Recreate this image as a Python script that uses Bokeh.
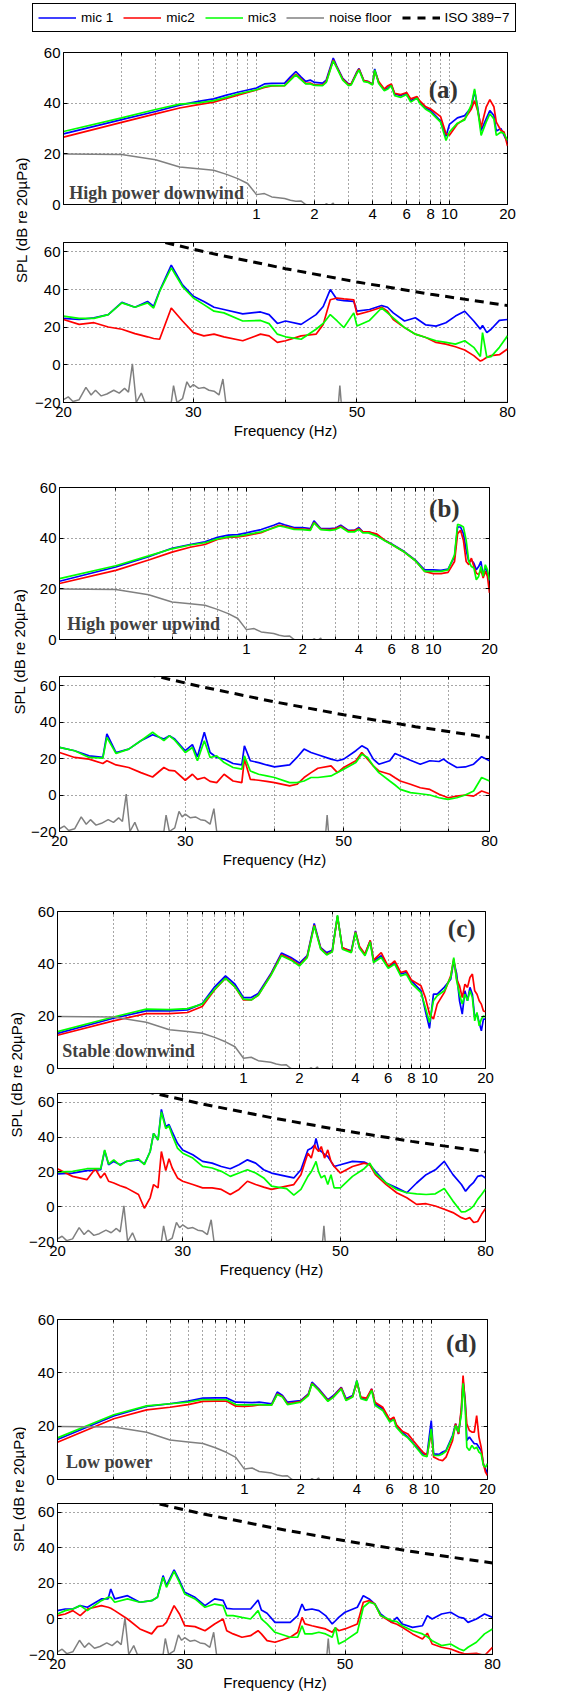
import math
from bokeh.plotting import figure
from bokeh.models import (Range1d, FixedTicker, LogAxis, LinearAxis, Label,
                          Legend, LegendItem, NumeralTickFormatter)
from bokeh.layouts import column, row
from bokeh.embed import file_html
from bokeh.resources import INLINE

FONT = "Liberation Sans"
SERIF = "Liberation Serif"
C_M1, C_M2, C_M3, C_NF = "#0000ff", "#ff0000", "#00ff00", "#808080"
LW = 1.7

# ---------------------------------------------------------------- data
series_names = ["mic 1", "mic2", "mic3", "noise floor", "ISO 389\u22127"]
panel_tags = ["(a)", "(b)", "(c)", "(d)"]
conditions = ["High power downwind", "High power upwind", "Stable downwind", "Low power"]

up_ticks = [1, 2, 4, 6, 8, 10, 20]
up_minor = [0.2, 0.3, 0.4, 0.5, 0.6, 0.7, 0.8, 0.9, 3, 5, 7, 9]
lo_ticks = [20, 30, 50, 80]
lo_minor = [40, 60, 70]
up_yticks = [0, 20, 40, 60]
lo_yticks = [-20, 0, 20, 40, 60]

iso_f = [20, 25, 31.5, 40, 50, 63, 80]
iso_db = [78.5, 68.7, 59.5, 51.1, 44.0, 37.5, 31.5]

noise_up_f = [0.1, 0.2, 0.3, 0.4, 0.5, 0.6, 0.7, 0.8, 0.9, 1.0, 1.1, 1.2, 1.4, 1.5, 1.6, 1.7, 1.8, 1.9, 2.0, 2.2,
              2.3, 2.4, 2.5, 2.6, 3.0, 20]
noise_up_db = [19.9, 19.7, 17.7, 14.8, 14.1, 13.5, 11.9, 10.2, 8.3, 3.9, 4.3, 3.0, 2.4, 1.7, 1.3, 1.4, 0.0, -0.8, -0.3, -0.8,
               0.3, -0.5, 0.6, -3.0, -8.0, -10.0]
noise_lo_f = [20.0, 20.3, 20.6, 21.0, 21.45, 21.8, 22.1, 22.5, 22.9, 23.4, 23.8, 24.2, 24.5, 24.8, 25.1, 25.5, 25.8,
              28.0, 28.2, 28.5, 29.0, 29.4, 29.7, 30.0, 30.5, 31.0, 31.5, 32.0, 32.5, 32.9, 33.2, 47.2, 47.4, 47.6, 80.0]
noise_lo_db = [-18.5, -17.0, -19.5, -18.5, -12.0, -16.0, -13.5, -16.5, -15.5, -13.5, -15.0, -12.5, -14.5, 0.5, -20.0,
               -15.0, -20.0, -20.0, -11.0, -20.0, -18.0, -9.0, -12.0, -10.5, -12.5, -12.0, -13.5, -14.0, -16.0, -7.5,
               -20.0, -20.0, -11.0, -20.0, -20.0]

# ---- (a) high power downwind
a_up_f = [0.1, 0.2, 0.3, 0.4, 0.5, 0.6, 0.7, 0.8, 0.9, 1.0, 1.1, 1.2, 1.4, 1.5, 1.6, 1.7, 1.8, 1.9, 2.0, 2.2,
          2.3, 2.5, 2.6, 2.8, 3.0, 3.1, 3.3, 3.4, 3.6, 3.8, 4.0, 4.1, 4.3, 4.6, 4.8, 5.0, 5.2, 5.6, 6.0, 6.3,
          6.8, 7.0, 7.5, 8.0, 9.0, 9.6, 10, 11, 12, 13, 13.5, 14, 14.6, 15.5, 16.2, 17, 17.5, 18.5, 19.2, 20]
a_up_mic1 = [27.9, 33.5, 36.7, 39.2, 40.7, 41.7, 43.2, 44.3, 45.2, 46.0, 47.6, 47.8, 47.9, 50.4, 52.5, 50.4, 48.6, 49.1, 48.2, 47.9,
             49.1, 57.8, 54.8, 49.8, 47.6, 47.6, 52.1, 53.7, 48.9, 48.5, 47.6, 53.5, 48.2, 45.2, 46.0, 47.3, 43.6, 43.0, 43.9, 41.0,
             42.3, 40.4, 38.1, 37.1, 32.9, 26.9, 31.6, 34.2, 35.1, 38.4, 44.9, 38.4, 29.2, 33.8, 37.1, 35.1, 29.0, 30.0, 27.3, 24.6]
a_up_mic2 = [26.6, 32.4, 35.8, 38.1, 39.4, 40.4, 41.9, 43.2, 44.2, 45.2, 46.2, 46.8, 46.9, 49.4, 51.5, 49.6, 47.8, 47.9, 47.2, 47.1,
             48.5, 57.0, 54.4, 49.5, 47.3, 47.6, 51.8, 53.5, 48.9, 48.5, 47.4, 52.8, 48.5, 45.6, 46.9, 47.6, 43.9, 43.4, 44.2, 41.7,
             42.6, 41.0, 38.7, 37.7, 34.7, 27.9, 27.3, 31.8, 33.8, 37.7, 41.0, 37.1, 30.5, 38.4, 41.4, 38.6, 32.5, 29.2, 28.6, 23.1]
a_up_mic3 = [28.8, 34.2, 37.5, 39.6, 40.1, 41.0, 42.3, 43.6, 44.5, 45.3, 46.5, 46.9, 46.9, 49.1, 51.2, 49.3, 47.6, 47.6, 47.0, 46.9,
             48.2, 56.7, 54.1, 49.1, 46.9, 47.2, 51.5, 53.1, 48.5, 48.2, 47.2, 53.1, 47.8, 44.9, 45.6, 46.9, 43.0, 42.3, 43.4, 40.4,
             42.0, 40.0, 37.7, 36.4, 32.5, 25.3, 28.6, 32.1, 33.4, 39.4, 45.6, 37.7, 27.3, 32.5, 35.8, 33.8, 27.3, 28.6, 27.9, 25.3]
a_lo_f = [20, 21, 22, 23, 24, 25, 26, 26.5, 27, 28, 29, 30, 31, 32, 33, 35, 37, 38, 39, 40, 42, 44, 45,
          46, 47, 48, 49.5, 50, 52, 54, 55, 56, 58, 60, 62, 64, 66, 68, 70, 72, 73.5, 74, 75, 76, 78, 80]
a_lo_mic1 = [24.7, 24.1, 25.0, 26.7, 33.2, 30.6, 33.7, 31.1, 39.3, 53.0, 42.5, 36.4, 33.7, 30.6, 29.4, 27.1, 28.1, 26.7, 22.0, 23.3, 21.5, 26.7, 31.0,
             40.0, 34.6, 34.1, 33.7, 28.5, 29.4, 31.5, 30.6, 27.6, 23.3, 25.0, 21.2, 20.6, 22.4, 25.9, 28.5, 23.3, 19.0, 21.0, 17.1, 18.9, 23.6, 24.1]
a_lo_mic2 = [24.1, 21.5, 22.4, 20.1, 18.9, 16.6, 14.9, 14.0, 13.6, 30.2, 23.3, 17.1, 15.4, 16.3, 14.9, 12.8, 16.3, 15.4, 11.9, 12.8, 15.4, 16.3, 21.5,
             34.6, 35.5, 35.1, 34.6, 26.7, 28.5, 30.6, 28.5, 24.1, 19.8, 16.3, 14.5, 11.9, 11.0, 9.6, 7.9, 4.9, 2.0, 2.5, 4.0, 4.9, 5.4, 8.4]
a_lo_mic3 = [25.9, 24.7, 24.7, 26.7, 32.9, 30.6, 32.9, 30.2, 39.0, 51.5, 41.6, 35.5, 32.0, 28.5, 27.6, 23.3, 23.6, 21.9, 16.3, 14.9, 13.6, 18.9, 22.0,
             26.7, 23.3, 19.8, 27.6, 20.6, 23.6, 30.2, 27.6, 25.0, 19.8, 16.3, 14.5, 12.8, 11.9, 11.0, 12.8, 9.3, 4.5, 17.1, 4.0, 4.4, 9.3, 15.4]

# ---- (b) high power upwind
b_up_f = [0.1, 0.2, 0.3, 0.4, 0.5, 0.6, 0.7, 0.8, 0.9, 1.0, 1.2, 1.4, 1.5, 1.6, 1.8, 2.0, 2.2, 2.3, 2.5, 2.8,
          3.0, 3.2, 3.5, 3.8, 4.0, 4.2, 4.5, 5.0, 5.5, 6.0, 7.0, 8.0, 9.0, 10, 11, 12, 13, 13.5, 14, 14.5,
          15, 15.5, 16, 16.5, 17, 17.5, 18, 18.5, 19, 19.5, 20]
b_up_mic1 = [23.0, 28.6, 32.7, 36.0, 37.5, 38.6, 40.3, 41.2, 41.4, 42.1, 43.4, 45.1, 46.0, 45.3, 44.2, 44.2, 43.8, 46.8, 43.8, 43.8,
             44.0, 45.1, 43.1, 43.1, 44.2, 42.5, 42.5, 41.2, 39.2, 37.7, 34.7, 31.4, 27.5, 27.5, 27.3, 27.8, 32.7, 44.4, 44.4, 41.8,
             35.3, 30.8, 31.4, 30.1, 27.5, 28.8, 30.8, 24.9, 28.8, 26.2, 23.0]
b_up_mic2 = [22.1, 27.3, 31.4, 34.5, 36.4, 37.5, 39.5, 40.3, 40.5, 41.0, 42.2, 44.2, 45.1, 44.7, 43.8, 43.6, 43.4, 46.2, 43.6, 43.4,
             43.8, 44.7, 42.8, 43.1, 43.8, 42.5, 42.5, 41.6, 39.2, 37.5, 34.5, 31.2, 26.9, 26.0, 26.0, 26.5, 30.8, 41.8, 43.1, 39.2,
             30.8, 29.5, 32.1, 28.8, 26.2, 25.6, 27.5, 24.3, 26.9, 24.9, 18.4]
b_up_mic3 = [24.0, 29.1, 33.0, 35.8, 37.3, 38.2, 39.7, 40.5, 40.8, 41.4, 42.5, 44.0, 44.8, 44.4, 43.5, 43.4, 43.1, 46.0, 43.4, 43.1,
             43.4, 44.4, 42.5, 42.5, 43.5, 42.1, 42.1, 40.8, 39.0, 37.5, 34.5, 31.2, 26.9, 26.9, 26.9, 27.5, 33.4, 45.5, 45.1, 44.4,
             39.2, 30.8, 28.8, 28.2, 23.6, 24.9, 28.8, 24.9, 29.5, 27.5, 23.4]
b_lo_f = [20, 21, 22, 23, 23.3, 24, 25, 26, 27, 28, 28.5, 29, 30, 30.7, 31.2, 31.9, 32.5, 33.2, 34, 35,
          36, 36.3, 37, 38, 39, 40, 42, 43, 44, 45, 46, 48, 49, 50, 52, 53, 54, 55, 56, 58,
          59, 60, 62, 64, 66, 68, 69, 70, 72, 74, 76, 78, 80]
b_lo_mic1 = [26.1, 24.3, 21.5, 20.6, 33.5, 23.3, 25.2, 29.8, 33.1, 30.7, 32.5, 30.7, 24.3, 27.6, 21.0, 34.4, 23.3, 20.6, 19.7, 17.3,
             16.5, 27.0, 18.8, 17.8, 16.5, 15.4, 16.5, 20.6, 25.2, 23.3, 22.1, 19.7, 18.8, 19.7, 24.3, 27.0, 25.2, 19.7, 16.9, 18.8,
             22.8, 21.5, 19.1, 16.9, 18.8, 18.4, 19.7, 17.8, 15.1, 15.4, 16.9, 21.0, 18.8]
b_lo_mic2 = [23.3, 20.6, 19.7, 17.3, 18.8, 16.5, 15.1, 12.3, 9.9, 15.1, 13.5, 13.2, 8.1, 11.4, 8.6, 9.6, 7.5, 6.8, 11.4, 7.7,
             6.8, 19.7, 8.6, 8.1, 7.5, 6.8, 5.0, 5.9, 9.6, 12.3, 14.7, 16.0, 12.3, 15.1, 18.8, 23.3, 19.7, 16.0, 13.2, 11.4,
             9.5, 7.7, 5.9, 4.0, 3.1, 0.4, -0.5, -1.5, -0.6, 0.0, -0.6, 2.2, 0.7]
b_lo_mic3 = [26.1, 24.3, 20.6, 20.2, 31.6, 22.8, 25.2, 29.8, 34.4, 29.8, 32.5, 30.1, 23.3, 26.1, 18.8, 29.8, 20.6, 21.5, 17.8, 15.1,
             14.2, 21.5, 13.2, 11.4, 10.5, 9.6, 6.8, 6.8, 7.7, 9.6, 9.6, 10.5, 12.3, 14.2, 17.8, 22.4, 20.6, 16.0, 12.3, 7.7,
             5.5, 3.1, 1.3, 0.7, 0.0, -1.5, -2.0, -2.4, -1.5, 0.0, 2.2, 9.6, 7.7]

# ---- (c) stable downwind
c_up_f = [0.1, 0.2, 0.3, 0.4, 0.5, 0.6, 0.7, 0.8, 0.9, 1.0, 1.1, 1.2, 1.4, 1.6, 1.8, 2.0, 2.2, 2.4, 2.6, 2.8,
          3.0, 3.2, 3.4, 3.8, 4.0, 4.2, 4.5, 4.8, 5.0, 5.5, 6.0, 6.5, 7.0, 7.5, 8.0, 9.0, 9.5, 10, 10.5, 11,
          12, 13, 13.5, 14, 14.5, 15, 15.5, 16, 16.5, 17, 17.5, 18, 18.5, 19, 19.5, 20]
c_up_mic1 = [13.4, 19.2, 22.0, 22.0, 22.4, 24.8, 31.2, 35.4, 32.2, 27.1, 27.1, 28.7, 36.1, 44.1, 42.4, 40.3, 43.1, 55.4, 46.2, 44.3,
             45.2, 58.2, 46.0, 45.0, 52.6, 46.2, 43.7, 48.8, 41.1, 43.1, 38.6, 40.5, 36.1, 36.7, 33.5, 29.7, 22.0, 15.4, 28.4, 28.4,
             31.0, 34.1, 41.1, 36.1, 25.9, 20.8, 29.7, 25.9, 31.0, 28.4, 19.5, 20.8, 17.6, 14.4, 18.9, 18.9]
c_up_mic2 = [12.7, 18.2, 21.0, 21.0, 21.4, 23.7, 30.1, 34.5, 31.2, 26.2, 26.2, 28.0, 35.7, 43.5, 41.8, 39.5, 42.7, 54.8, 45.9, 43.7,
             44.7, 58.0, 46.2, 44.6, 52.3, 46.7, 43.7, 49.0, 41.4, 44.3, 38.9, 41.1, 36.7, 37.3, 33.8, 31.6, 27.1, 20.8, 18.9, 24.6,
             29.0, 35.4, 41.8, 34.1, 31.6, 27.1, 32.2, 31.0, 34.8, 36.1, 29.7, 28.4, 25.9, 24.6, 22.0, 21.7]
c_up_mic3 = [14.1, 19.7, 22.7, 22.5, 22.9, 24.6, 30.3, 34.5, 31.2, 26.5, 26.2, 28.0, 35.4, 43.1, 41.4, 39.2, 42.4, 54.5, 45.6, 43.4,
             44.6, 58.6, 45.6, 44.3, 52.0, 46.0, 43.1, 48.4, 40.5, 42.4, 38.3, 39.9, 35.4, 36.1, 32.5, 29.0, 23.3, 17.6, 25.9, 27.8,
             29.7, 34.8, 42.4, 33.5, 28.4, 24.6, 28.4, 25.9, 29.7, 27.1, 18.2, 21.4, 16.3, 18.9, 20.1, 19.7]
c_lo_f = [20, 21, 22, 22.6, 23, 23.3, 23.6, 24, 24.5, 25, 26, 26.5, 27, 27.3, 27.7, 28, 28.4, 28.7, 29, 29.5,
          30, 31, 32, 33, 34, 35, 36, 37, 38, 39, 40, 42, 43, 44, 45, 45.5, 46, 46.2, 46.6, 47,
          47.5, 48, 48.5, 49, 50, 52, 54, 55, 56, 58, 60, 62, 64, 66, 68, 70, 72, 74, 75, 76,
          77, 78, 79, 80]
c_lo_mic1 = [18.8, 19.3, 20.7, 21.0, 21.2, 32.2, 24.1, 26.0, 24.1, 26.0, 26.9, 24.5, 31.7, 42.1, 38.3, 55.9, 45.9, 47.2, 43.0, 36.4,
             32.6, 29.8, 26.0, 25.0, 23.1, 21.8, 24.1, 26.9, 25.0, 21.2, 19.3, 17.4, 16.5, 21.2, 32.6, 33.5, 35.5, 39.2, 33.0, 31.7,
             30.0, 28.8, 26.0, 23.1, 24.1, 26.0, 25.6, 24.1, 20.3, 13.6, 10.8, 8.0, 13.6, 18.4, 21.2, 26.0, 18.4, 12.7, 8.9, 11.8,
             14.0, 17.4, 18.0, 16.5]
c_lo_mic2 = [21.8, 17.4, 15.5, 21.8, 16.5, 19.3, 14.6, 13.6, 12.0, 10.8, 7.0, -0.9, 5.1, 12.7, 10.8, 31.7, 20.7, 27.5, 22.2, 16.5,
             14.6, 12.7, 10.8, 10.8, 9.9, 7.0, 9.9, 14.6, 12.7, 11.2, 9.9, 11.8, 12.7, 18.4, 30.7, 27.9, 35.5, 33.6, 31.7, 34.5,
             27.9, 32.6, 26.0, 23.1, 19.3, 23.1, 25.0, 24.1, 18.4, 12.7, 8.0, 5.1, 1.3, 1.7, 0.4, -1.5, -3.4, -6.3, -7.2, -6.3,
             -9.1, -8.5, -4.4, -1.1]
c_lo_mic3 = [19.9, 20.3, 21.8, 21.8, 21.8, 32.6, 24.5, 26.9, 23.7, 26.0, 27.5, 24.1, 31.7, 42.1, 38.3, 54.4, 44.9, 46.4, 41.1, 33.6,
             30.7, 27.9, 23.1, 22.2, 20.3, 17.4, 19.3, 21.2, 19.3, 16.5, 11.8, 10.4, 6.6, 9.9, 17.4, 20.0, 24.1, 26.0, 20.0, 16.5,
             18.0, 12.7, 18.4, 10.8, 10.8, 17.4, 21.8, 25.0, 19.3, 13.6, 9.9, 8.0, 7.4, 7.0, 7.4, 10.4, 3.2, -3.0, -2.8, -1.5,
             0.5, 4.2, 7.0, 10.2]

# ---- (d) low power
d_up_f = [0.1, 0.2, 0.3, 0.4, 0.5, 0.6, 0.7, 0.8, 0.9, 1.0, 1.1, 1.2, 1.4, 1.5, 1.6, 1.7, 2.0, 2.2, 2.3, 2.5,
          2.8, 3.0, 3.3, 3.5, 3.8, 4.0, 4.2, 4.5, 4.8, 5.0, 5.5, 6.0, 6.3, 6.5, 7.0, 7.5, 8.0, 9.0, 9.5, 10,
          10.3, 11, 11.5, 12, 13, 13.5, 14, 14.5, 14.8, 15.2, 15.5, 16, 16.5, 17, 17.5, 18, 18.5, 19, 19.5, 20]
d_up_mic1 = [15.0, 23.8, 27.4, 28.4, 29.4, 30.5, 30.6, 30.6, 29.0, 28.9, 28.8, 29.0, 28.4, 32.8, 31.5, 29.0, 29.6, 32.1, 36.5, 34.0,
             29.9, 31.5, 34.6, 30.3, 31.5, 37.1, 30.6, 29.9, 34.0, 28.4, 26.5, 22.1, 23.1, 20.3, 17.8, 15.9, 13.6, 9.6, 9.4, 22.1,
             9.6, 9.4, 10.3, 10.9, 16.5, 20.9, 17.1, 25.9, 37.1, 29.6, 14.6, 15.9, 14.6, 13.4, 13.4, 12.1, 10.9, 5.9, 4.0, 2.1]
d_up_mic2 = [14.0, 22.8, 26.1, 27.1, 28.1, 29.3, 29.4, 29.4, 27.5, 27.4, 27.6, 28.0, 28.0, 32.1, 31.1, 28.4, 29.3, 31.8, 36.1, 33.6,
             29.6, 31.1, 34.4, 29.9, 31.1, 36.5, 30.9, 30.5, 34.0, 29.0, 27.1, 22.4, 23.4, 20.6, 18.1, 17.1, 14.6, 10.3, 9.0, 17.8,
             8.4, 7.4, 7.1, 8.4, 14.6, 20.9, 17.1, 27.1, 39.0, 28.4, 20.9, 18.4, 17.8, 17.8, 24.0, 15.9, 12.1, 5.9, 2.8, 1.5]
d_up_mic3 = [15.6, 24.3, 27.6, 28.4, 29.0, 30.0, 29.9, 29.9, 28.1, 28.0, 28.0, 28.1, 27.9, 31.9, 30.9, 28.1, 29.0, 31.5, 35.9, 33.4,
             29.3, 30.9, 34.0, 29.6, 30.9, 37.1, 30.3, 29.6, 33.4, 27.8, 25.9, 21.5, 22.5, 19.6, 17.1, 15.6, 13.4, 9.0, 8.6, 19.0,
             9.0, 9.0, 9.6, 10.6, 15.9, 20.3, 17.8, 24.6, 36.1, 27.1, 12.1, 10.9, 12.8, 11.5, 12.1, 10.3, 9.6, 5.3, 4.6, 5.9]
d_lo_f = [20, 20.5, 21, 21.5, 22, 23, 23.5, 23.7, 24, 25, 26, 27, 27.5, 28, 28.3, 29, 29.5, 30, 31, 32,
          33, 33.9, 34.3, 35, 36, 37, 37.9, 38.3, 39, 40, 42, 43, 43.6, 44, 45, 46, 47, 48, 48.5, 49,
          50, 52, 53, 54, 55, 56, 58, 59, 60, 62, 64, 65, 66, 68, 70, 72, 73, 74, 76, 78, 80]
d_lo_mic1 = [4.7, 5.6, 5.6, 7.5, 6.6, 11.3, 11.3, 16.9, 11.3, 13.1, 9.4, 10.3, 12.2, 24.4, 18.8, 27.6, 21.6, 15.0, 12.2, 7.5,
             11.3, 10.5, 6.0, 5.6, 5.6, 5.6, 10.7, 5.1, 3.2, -1.9, -1.9, 1.9, 8.4, 5.0, 5.6, 4.7, 1.9, -2.8, -1.0, 0.9,
             3.8, 6.6, 13.1, 11.3, 8.4, 2.8, -1.9, 0.9, -2.8, -4.7, -3.8, 1.9, 0.0, 2.8, 3.8, 0.9, 0.5, -1.9, 0.0, 2.8, 0.9]
d_lo_mic2 = [1.9, 2.8, 4.7, 1.9, 5.6, 7.5, 6.6, 6.0, 4.7, 0.0, -5.6, -8.4, -4.3, -3.8, -1.9, 7.5, 2.8, -3.8, -4.3, -6.6,
             -2.8, 0.0, -6.6, -8.4, -10.3, -9.4, -6.6, -8.4, -12.2, -13.1, -10.3, -7.5, 0.9, -2.8, -3.8, -4.7, -5.6, -7.5, -5.0, -6.6,
             -5.6, -2.8, 9.4, 10.3, 8.4, 1.9, -1.9, -3.0, -4.7, -8.4, -11.3, -8.0, -14.1, -15.9, -16.9, -18.8, -19.5, -19.7, -19.3, -20.6, -15.9]
d_lo_mic3 = [2.8, 4.7, 5.6, 7.5, 4.7, 10.3, 12.2, 12.2, 9.4, 11.3, 9.4, 10.3, 12.2, 23.5, 17.8, 26.8, 20.6, 14.1, 11.3, 6.6,
             8.4, 7.5, 1.9, 1.9, 0.9, 0.0, 4.7, 0.0, -2.8, -7.5, -10.3, -10.3, -3.8, -8.4, -8.4, -7.5, -8.4, -10.3, -4.7, -14.1,
             -12.2, -7.5, 6.6, 9.4, 8.4, 1.9, -0.9, -1.5, -3.8, -6.6, -8.4, -10.0, -12.2, -15.0, -14.1, -16.9, -17.8, -15.9, -13.1, -8.4, -5.6]


# ---------------------------------------------------------------- helpers
def style_axis(ax, ticker):
    ax.ticker = ticker
    ax.major_tick_in = 4
    ax.major_tick_out = 0
    ax.minor_tick_in = 3
    ax.minor_tick_out = 0
    ax.major_tick_line_color = "black"
    ax.minor_tick_line_color = "black"


def make_panel(w, h, bl, br, bt, bb, xr, yr, xt, xm, yt, xlabel=None):
    p = figure(width=w, height=h, x_axis_type="log", x_range=Range1d(*xr), y_range=Range1d(*yr),
               output_backend="svg", toolbar_location=None,
               min_border_left=bl, min_border_right=br, min_border_top=bt, min_border_bottom=bb)
    p.background_fill_color = "white"
    p.border_fill_color = "white"
    p.outline_line_color = "black"
    p.outline_line_alpha = 1.0
    xtk = FixedTicker(ticks=xt, minor_ticks=xm)
    ytk = FixedTicker(ticks=yt, minor_ticks=[])
    xa = p.below[0]
    ya = p.left[0]
    style_axis(xa, xtk)
    style_axis(ya, ytk)
    xa.formatter = NumeralTickFormatter(format="0")
    for ax in (xa, ya):
        ax.axis_line_color = "black"
        ax.major_label_text_font = FONT
        ax.major_label_text_font_size = "15px"
        ax.major_label_text_color = "black"
    xa.major_label_standoff = 4
    ya.major_label_standoff = 3
    if xlabel:
        xa.axis_label = xlabel
        xa.axis_label_text_font = FONT
        xa.axis_label_text_font_size = "15px"
        xa.axis_label_text_font_style = "normal"
        xa.axis_label_text_color = "black"
        xa.axis_label_standoff = 2
    p.xgrid.ticker = xtk
    p.ygrid.ticker = ytk
    for g in (p.xgrid, p.ygrid):
        g.grid_line_color = "black"
        g.grid_line_alpha = 0.7
        g.grid_line_dash = "1 3"
        g.grid_line_width = 1
    p.xgrid.minor_grid_line_color = "black"
    p.xgrid.minor_grid_line_alpha = 0.7
    p.xgrid.minor_grid_line_dash = "1 3"
    # box ticks on top and right (MATLAB "box on")
    top = LogAxis()
    right = LinearAxis()
    style_axis(top, xtk)
    style_axis(right, ytk)
    for ax in (top, right):
        ax.axis_line_color = None
        ax.major_label_text_font_size = "1px"
        ax.major_label_text_color = None
        ax.major_label_standoff = 0
    p.add_layout(top, "above")
    p.add_layout(right, "right")
    return p


def upper(spec, f, m1, m2, m3, tag, tag_xy, cond, cond_xy):
    p = make_panel(*spec, (0.1, 20), (0, 60), up_ticks, up_minor, up_yticks)
    p.line(f, m1, line_color=C_M1, line_width=LW)
    p.line(f, m2, line_color=C_M2, line_width=LW)
    p.line(f, m3, line_color=C_M3, line_width=LW)
    p.line(noise_up_f, noise_up_db, line_color=C_NF, line_width=1.5)
    p.add_layout(Label(x=tag_xy[0], y=tag_xy[1], text=tag, text_font=SERIF, text_font_style="bold",
                       text_font_size="25px", text_color="#333333", text_baseline="middle", text_align="left"))
    p.add_layout(Label(x=cond_xy[0], y=cond_xy[1], text=cond, text_font=SERIF, text_font_style="bold",
                       text_font_size="18px", text_color="#404040", text_baseline="middle", text_align="left"))
    return p


def lower(spec, f, m1, m2, m3):
    p = make_panel(*spec, (20, 80), (-20, 65), lo_ticks, lo_minor, lo_yticks, xlabel="Frequency (Hz)")
    p.line(f, m1, line_color=C_M1, line_width=LW)
    p.line(f, m2, line_color=C_M2, line_width=LW)
    p.line(f, m3, line_color=C_M3, line_width=LW)
    p.line(noise_lo_f, noise_lo_db, line_color=C_NF, line_width=1.5)
    p.line(iso_f, iso_db, line_color="black", line_width=3, line_dash="9 6")
    return p


def ylab(w, h, x, y):
    p = figure(width=w, height=h, x_range=Range1d(0, w), y_range=Range1d(0, h),
               output_backend="svg", toolbar_location=None, min_border=0,
               x_axis_location=None, y_axis_location=None)
    p.grid.grid_line_color = None
    p.outline_line_color = None
    p.add_layout(Label(x=x, y=y, text="SPL (dB re 20\u00b5Pa)", angle=math.pi / 2,
                       text_align="center", text_baseline="middle",
                       text_font=FONT, text_font_size="15px", text_color="black"))
    return p


# ---------------------------------------------------------------- legend
leg = figure(width=540, height=38, x_range=Range1d(0, 1), y_range=Range1d(0, 1),
             output_backend="svg", toolbar_location=None, min_border=0,
             x_axis_location=None, y_axis_location=None)
leg.grid.grid_line_color = None
leg.outline_line_color = None
# legend-only renderers (their points lie outside the visible range)
r1 = leg.line([5, 6], [5, 6], line_color=C_M1, line_width=LW)
r2 = leg.line([5, 6], [5, 6], line_color=C_M2, line_width=LW)
r3 = leg.line([5, 6], [5, 6], line_color=C_M3, line_width=LW)
r4 = leg.line([5, 6], [5, 6], line_color=C_NF, line_width=1.5)
r5 = leg.line([5, 6], [5, 6], line_color="black", line_width=3, line_dash="8 7")
legend = Legend(items=[LegendItem(label=n, renderers=[r]) for n, r in zip(series_names, [r1, r2, r3, r4, r5])],
                location=(32, 6), orientation="horizontal", glyph_width=38, glyph_height=17,
                label_height=17, label_standoff=5, spacing=10, padding=5, margin=0,
                border_line_color="black", border_line_width=1, border_line_alpha=1.0,
                background_fill_color="white", background_fill_alpha=1.0,
                label_text_font=FONT, label_text_font_size="13.5px", label_text_color="black")
leg.add_layout(legend)

# ---------------------------------------------------------------- panels
a_up = upper((489, 187, 30, 14, 14, 21), a_up_f, a_up_mic1, a_up_mic2, a_up_mic3,
             panel_tags[0], (7.81, 45.4), conditions[0], (0.107, 4.7))
a_lo = lower((489, 225, 30, 14, 17, 48), a_lo_f, a_lo_mic1, a_lo_mic2, a_lo_mic3)
b_up = upper((475, 210, 27, 14, 37, 21), b_up_f, b_up_mic1, b_up_mic2, b_up_mic3,
             panel_tags[1], (9.5, 51.7), conditions[1], (0.110, 6.3))
b_lo = lower((475, 220, 27, 14, 16, 49), b_lo_f, b_lo_mic1, b_lo_mic2, b_lo_mic3)
c_up = upper((473, 209, 27, 14, 31, 21), c_up_f, c_up_mic1, c_up_mic2, c_up_mic3,
             panel_tags[2], (12.55, 53.5), conditions[2], (0.106, 6.5))
c_lo = lower((473, 201, 26, 14, 4, 49), c_lo_f, c_lo_mic1, c_lo_mic2, c_lo_mic3)
d_up = upper((475, 210, 23, 14, 29, 21), d_up_f, d_up_mic1, d_up_mic2, d_up_mic3,
             panel_tags[3], (12.0, 51.0), conditions[3], (0.111, 6.4))
d_lo = lower((480, 198, 27, 14, 3, 44), d_lo_f, d_lo_mic1, d_lo_mic2, d_lo_mic3)

layout = column(
    leg,
    row(ylab(32, 412, 21, 230.5), column(a_up, a_lo)),
    row(ylab(28, 430, 19, 229), column(b_up, b_lo)),
    row(ylab(26, 410, 15.5, 216), column(c_up, c_lo)),
    row(ylab(26, 408, 18, 209.5), column(d_up, d_lo)),
)

with open("out.html", "w", encoding="utf-8") as fh:
    fh.write(file_html(layout, INLINE))
